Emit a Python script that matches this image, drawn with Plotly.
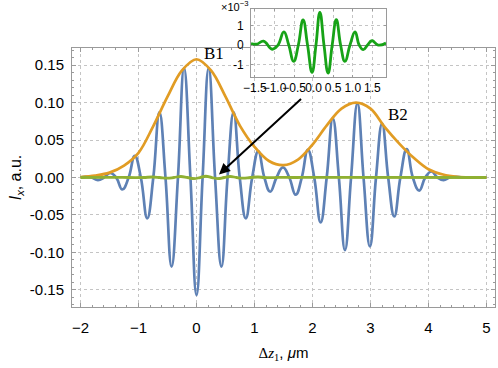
import plotly.graph_objects as go

# ---------------- data ----------------
# blue interference signal: extrema and zero crossings
blue_x = [-2.0, -1.92, -1.81, -1.70, -1.595, -1.49, -1.385, -1.28, -1.17, -1.065,
          -0.96, -0.85, -0.745, -0.64, -0.535, -0.43, -0.32, -0.215, -0.105, 0.0,
          0.105, 0.21, 0.32, 0.43, 0.535, 0.64, 0.745, 0.85, 0.96, 1.065,
          1.17, 1.27, 1.38, 1.49, 1.60, 1.71, 1.815, 1.92, 2.03, 2.14,
          2.245, 2.35, 2.455, 2.56, 2.665, 2.775, 2.88, 2.99, 3.095, 3.20,
          3.305, 3.41, 3.515, 3.625, 3.73, 3.84, 3.945, 4.05, 4.155, 4.26,
          4.365, 4.475, 4.58, 4.69, 5.0]
blue_y = [-0.0002, 0.0008, 0.0, -0.0035, 0.0, 0.006, 0.0, -0.016, 0.0, 0.029,
          0.0, -0.0545, 0.0, 0.087, 0.0, -0.119, 0.0, 0.146, 0.0, -0.157,
          0.0, 0.146, 0.0, -0.119, 0.0, 0.087, 0.0, -0.0545, 0.0, 0.035,
          0.0, -0.019, 0.0, 0.0135, 0.0, -0.023, 0.0, 0.037, 0.0, -0.060,
          0.0, 0.079, 0.0, -0.097, 0.0, 0.099, 0.0, -0.092, 0.0, 0.072,
          0.0, -0.052, 0.0, 0.038, 0.0, -0.0175, 0.0, 0.008, 0.0, -0.0035,
          0.0, 0.001, 0.0, -0.0003, 0.0]

# orange envelope (B1 + B2)
env_x = [-2.0, -1.75, -1.5, -1.25, -1.0, -0.75, -0.5, -0.25, 0.0, 0.25,
         0.5, 0.75, 1.0, 1.25, 1.5, 1.75, 2.0, 2.25, 2.5, 2.75,
         3.0, 3.25, 3.5, 3.75, 4.0, 4.25, 4.5, 4.75, 5.0]
env_y = [0.0005, 0.0025, 0.0065, 0.016, 0.033, 0.068, 0.108, 0.143, 0.158, 0.143,
         0.108, 0.069, 0.041, 0.022, 0.0165, 0.024, 0.044, 0.070, 0.092, 0.100,
         0.092, 0.067, 0.045, 0.026, 0.011, 0.004, 0.001, 0.0002, 0.0]

# green difference signal (units of 1e-3)
ins_x = [-1.6, -1.45, -1.28, -1.06, -0.91, -0.76, -0.635, -0.51, -0.39, -0.27,
         -0.155, -0.04, 0.06, 0.16, 0.265, 0.37, 0.475, 0.58, 0.69, 0.80,
         0.93, 1.06, 1.165, 1.27, 1.38, 1.49, 1.65, 1.85]
ins_y = [0.08, 0.05, 0.2, -0.22, 0.0, 0.68, 0.0, -0.85, 0.0, 1.3,
         0.0, -1.42, 0.0, 1.69, 0.0, -1.45, 0.0, 1.31, 0.0, -0.85,
         0.0, 0.68, 0.0, -0.24, 0.0, 0.22, 0.0, 0.1]
ins_scale = 1e-3

x_ticks = [-2, -1, 0, 1, 2, 3, 4, 5]
y_ticks = [-0.15, -0.10, -0.05, 0.0, 0.05, 0.10, 0.15]
y_tick_text = ["-0.15", "-0.10", "-0.05", "0.00", "0.05", "0.10", "0.15"]
ins_x_ticks = [-1.5, -1.0, -0.5, 0.0, 0.5, 1.0, 1.5]
ins_x_text = ["\u22121.5", "\u22121.0", "\u22120.5", "0.0", "0.5", "1.0", "1.5"]
ins_y_ticks = [-1, 0, 1]
ins_y_text = ["-1", "0", "1"]

# ---------------- styles ----------------
BLUE = "#5E81B5"
ORANGE = "#E19C24"
GREEN = "#8FB032"
INSET_GREEN = "#17A317"
FRAME = "#9A9A9A"
GRID = "#C4C4C4"

fig = go.Figure()
fig.add_trace(go.Scatter(x=blue_x, y=blue_y, mode="lines",
                         line=dict(color=BLUE, width=2.7, shape="spline", smoothing=1.3),
                         hoverinfo="skip"))
fig.add_trace(go.Scatter(x=env_x, y=env_y, mode="lines",
                         line=dict(color=ORANGE, width=2.7, shape="spline", smoothing=1.0),
                         hoverinfo="skip"))
green_x = [-2.0] + ins_x + [5.0]
green_y = [0.0] + [v * ins_scale for v in ins_y] + [0.0]
fig.add_trace(go.Scatter(x=green_x, y=green_y, mode="lines",
                         line=dict(color=GREEN, width=2.8, shape="spline", smoothing=1.3),
                         hoverinfo="skip"))
fig.add_trace(go.Scatter(x=ins_x, y=ins_y, mode="lines", xaxis="x2", yaxis="y2",
                         line=dict(color=INSET_GREEN, width=2.8, shape="spline", smoothing=1.3),
                         hoverinfo="skip"))

axis_common = dict(showline=True, linecolor=FRAME, linewidth=1, mirror="allticks",
                   ticks="inside", tickcolor=FRAME, showgrid=True, gridcolor=GRID,
                   griddash="dot", gridwidth=1, tickangle=0, automargin=False)

fig.update_layout(
    width=498, height=368,
    margin=dict(l=72, r=3, t=5, b=61),
    paper_bgcolor="white", plot_bgcolor="white",
    showlegend=False,
    font=dict(family="Liberation Sans, Arial, sans-serif", size=14, color="black"),
    xaxis=dict(domain=[0, 1], range=[-2.147, 5.147], tickmode="array", tickvals=x_ticks,
               ticklen=4, tickfont=dict(size=15), ticklabelstandoff=7, zeroline=False,
               minor=dict(tick0=0, dtick=0.2, ticks="inside", ticklen=2, tickcolor=FRAME,
                          showgrid=False),
               title=dict(text="<span style='font-family:Liberation Serif'>\u0394<i>z</i><sub>1</sub></span>, <i>\u03bc</i>m",
                          font=dict(size=15), standoff=12),
               **axis_common),
    yaxis=dict(domain=[0, 0.8576], range=[-0.173, 0.173], tickmode="array",
               tickvals=y_ticks, ticktext=y_tick_text, ticklen=4, zeroline=False,
               tickfont=dict(size=15), ticklabelstandoff=4,
               minor=dict(tick0=0, dtick=0.01, ticks="inside", ticklen=2, tickcolor=FRAME,
                          showgrid=False),
               title=dict(text="<i>I</i><sub><i>x</i></sub>, a.u.", font=dict(size=16), standoff=4),
               **axis_common),
    xaxis2=dict(domain=[0.4232, 0.7423], range=[-1.6, 1.85], anchor="y2",
                tickmode="array", tickvals=ins_x_ticks, ticktext=ins_x_text, zeroline=False,
                ticklen=2, tickfont=dict(size=12), ticklabelstandoff=0,
                **axis_common),
    yaxis2=dict(domain=[0.7626, 0.9858], range=[-1.64, 1.85], anchor="x2",
                tickmode="array", tickvals=ins_y_ticks, ticktext=ins_y_text,
                ticklen=2, tickfont=dict(size=12), ticklabelstandoff=4,
                zeroline=True, zerolinecolor="#808080", zerolinewidth=1,
                **axis_common),
)

fig.add_annotation(x=0.30, y=0.166, xref="x", yref="y", text="B1", showarrow=False,
                   font=dict(family="Liberation Serif, Times New Roman, serif", size=17))
fig.add_annotation(x=3.47, y=0.0847, xref="x", yref="y", text="B2", showarrow=False,
                   font=dict(family="Liberation Serif, Times New Roman, serif", size=17))
fig.add_annotation(x=0.388, y=0.004, xref="x", yref="y", ax=1.828, ay=0.1067,
                   axref="x", ayref="y", text="", showarrow=True, arrowhead=2,
                   arrowsize=1.1, arrowwidth=2, arrowcolor="black")
fig.add_annotation(x=0, y=1, xref="x2 domain", yref="y2 domain", xanchor="right",
                   yanchor="bottom", xshift=-1, yshift=-6, showarrow=False,
                   text="\u00d710<sup>\u22123</sup>", font=dict(size=11))

# remove the browser's default 8px body margin so the figure sits at the window's corner
fig.write_html("out.html", config={"displayModeBar": False},
               post_script="document.body.style.margin='0px';document.body.style.padding='0px';")
